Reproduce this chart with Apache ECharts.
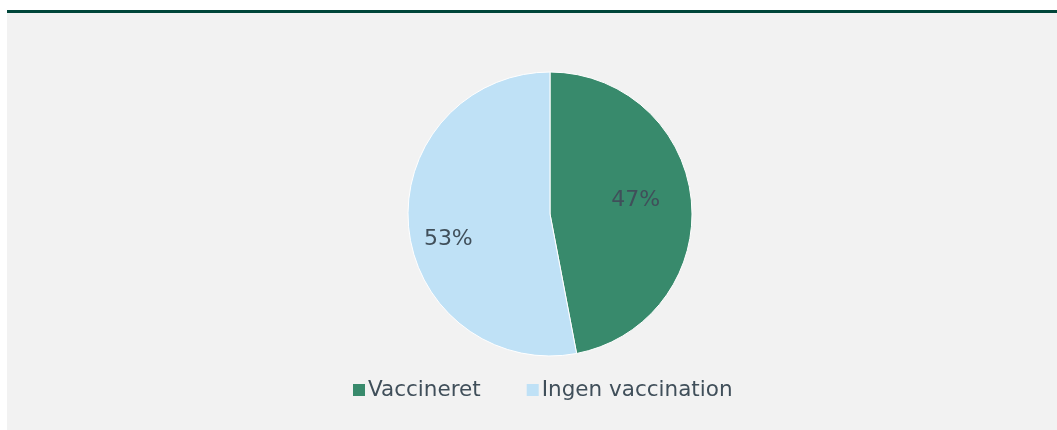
<!DOCTYPE html>
<html>
<head>
<meta charset="utf-8">
<script src="https://cdn.jsdelivr.net/npm/echarts@6/dist/echarts.min.js"></script>
<style>
  html, body { margin: 0; padding: 0; background: #ffffff; }
  #chart { width: 1057px; height: 430px; }
</style>
</head>
<body>
<div id="chart"></div>
<script>
  // data
  const categories = ['Vaccineret', 'Ingen vaccination'];
  const shares = [47, 53];
  const colors = ['#388a6c', '#bfe1f6'];
  const labelOffsets = [[12, -7], [-28, 18]];

  const chart = echarts.init(document.getElementById('chart'));

  chart.setOption({
    animation: false,
    textStyle: { fontFamily: 'DejaVu Sans' },
    graphic: [
      { type: 'rect', z: -10, shape: { x: 7, y: 10, width: 1050, height: 420 }, style: { fill: '#f2f2f2' } },
      { type: 'rect', z: -9, shape: { x: 7, y: 10, width: 1050, height: 3 }, style: { fill: '#00463a' } }
    ],
    legend: {
      top: 374,
      left: 348,
      itemWidth: 12,
      itemHeight: 12,
      itemGap: 46,
      icon: 'rect',
      itemStyle: { borderWidth: 0 },
      textStyle: { fontSize: 21.5, color: '#404f5a', padding: [0, 0, 0, -2] },
      data: categories
    },
    series: [{
      type: 'pie',
      center: [550, 214],
      radius: 142,
      startAngle: 90,
      clockwise: true,
      itemStyle: { borderColor: '#ffffff', borderWidth: 1 },
      label: {
        position: 'inside',
        fontSize: 22,
        color: '#404f5a',
        formatter: p => p.value + '%'
      },
      labelLine: { show: false },
      data: categories.map((name, i) => ({
        name: name,
        value: shares[i],
        itemStyle: { color: colors[i] },
        label: { offset: labelOffsets[i] }
      }))
    }]
  });
</script>
</body>
</html>
